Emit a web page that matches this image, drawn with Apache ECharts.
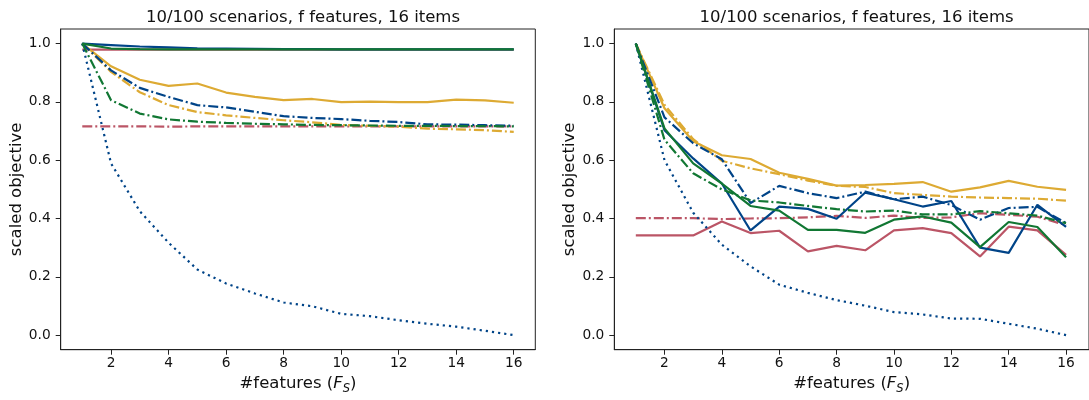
<!DOCTYPE html>
<html>
<head>
<meta charset="utf-8">
<script src="https://cdn.jsdelivr.net/npm/echarts@6/dist/echarts.min.js"></script>
<style>
html,body{margin:0;padding:0;background:#fff;}
#chart{width:1089px;height:400px;}
</style>
</head>
<body>
<div id="chart"></div>
<script>
// ---- data ----
const features = [1,2,3,4,5,6,7,8,9,10,11,12,13,14,15,16];
const xTicks = [2,4,6,8,10,12,14,16];
const yTicks = [0.0,0.2,0.4,0.6,0.8,1.0];
const panelTitle = '10/100 scenarios, f features, 16 items';

// left panel
const L_red_solid      = [0.979,0.979,0.979,0.979,0.979,0.979,0.979,0.979,0.979,0.979,0.979,0.979,0.979,0.979,0.979,0.979];
const L_red_dashdot    = [0.716,0.716,0.716,0.715,0.716,0.716,0.716,0.716,0.716,0.716,0.716,0.716,0.716,0.716,0.716,0.716];
const L_yellow_solid   = [1.0,0.922,0.876,0.855,0.863,0.832,0.817,0.806,0.810,0.799,0.801,0.799,0.799,0.808,0.805,0.797];
const L_yellow_dashdot = [1.0,0.903,0.833,0.789,0.765,0.754,0.745,0.737,0.730,0.721,0.718,0.715,0.708,0.706,0.703,0.697];
const L_blue_solid     = [1.0,0.995,0.990,0.987,0.984,0.983,0.982,0.981,0.981,0.980,0.980,0.980,0.980,0.980,0.980,0.980];
const L_blue_dashdot   = [1.0,0.908,0.848,0.817,0.789,0.781,0.766,0.751,0.745,0.741,0.735,0.731,0.723,0.722,0.720,0.718];
const L_blue_dotted    = [1.0,0.589,0.425,0.317,0.225,0.177,0.143,0.112,0.099,0.073,0.065,0.051,0.039,0.029,0.015,0.0];
const L_green_solid    = [1.0,0.983,0.981,0.980,0.980,0.980,0.980,0.980,0.980,0.980,0.980,0.980,0.980,0.980,0.980,0.980];
const L_green_dashdot  = [1.0,0.806,0.760,0.740,0.732,0.728,0.725,0.723,0.721,0.720,0.719,0.718,0.718,0.717,0.717,0.716];

// right panel
const R_red_solid      = [0.342,0.342,0.342,0.390,0.350,0.358,0.287,0.306,0.291,0.359,0.367,0.350,0.270,0.372,0.359,0.275];
const R_red_dashdot    = [0.401,0.401,0.401,0.398,0.400,0.401,0.404,0.409,0.402,0.410,0.402,0.404,0.418,0.413,0.406,0.377];
const R_yellow_solid   = [1.0,0.778,0.665,0.617,0.604,0.557,0.536,0.513,0.515,0.519,0.525,0.492,0.507,0.529,0.509,0.498];
const R_yellow_dashdot = [1.0,0.790,0.672,0.598,0.572,0.552,0.530,0.512,0.508,0.487,0.481,0.475,0.472,0.470,0.468,0.461];
const R_blue_solid     = [1.0,0.703,0.606,0.520,0.359,0.441,0.433,0.399,0.489,0.466,0.441,0.460,0.300,0.282,0.447,0.371];
const R_blue_dashdot   = [1.0,0.747,0.658,0.603,0.453,0.512,0.487,0.470,0.492,0.466,0.475,0.446,0.396,0.436,0.440,0.384];
const R_blue_dotted    = [1.0,0.600,0.420,0.310,0.236,0.173,0.145,0.120,0.101,0.079,0.071,0.057,0.056,0.039,0.022,0.0];
const R_green_solid    = [1.0,0.709,0.589,0.520,0.443,0.427,0.361,0.361,0.351,0.396,0.407,0.386,0.302,0.388,0.371,0.267];
const R_green_dashdot  = [1.0,0.670,0.555,0.500,0.462,0.455,0.443,0.432,0.424,0.427,0.414,0.414,0.425,0.418,0.410,0.384];

// ---- styles ----
const BLUE = '#004488', YELLOW = '#DDAA33', RED = '#BB5566', GREEN = '#117733';
const SOLID = 'solid', DASHDOT = [10, 3, 2, 3], DOTTED = [2.2, 4];
const FONT = 'DejaVu Sans';

const leftSeries = [
  [L_red_solid, RED, SOLID], [L_red_dashdot, RED, DASHDOT],
  [L_yellow_solid, YELLOW, SOLID], [L_yellow_dashdot, YELLOW, DASHDOT],
  [L_blue_solid, BLUE, SOLID], [L_blue_dashdot, BLUE, DASHDOT], [L_blue_dotted, BLUE, DOTTED],
  [L_green_solid, GREEN, SOLID], [L_green_dashdot, GREEN, DASHDOT]
];
const rightSeries = [
  [R_red_solid, RED, SOLID], [R_red_dashdot, RED, DASHDOT],
  [R_yellow_solid, YELLOW, SOLID], [R_yellow_dashdot, YELLOW, DASHDOT],
  [R_blue_solid, BLUE, SOLID], [R_blue_dashdot, BLUE, DASHDOT], [R_blue_dotted, BLUE, DOTTED],
  [R_green_solid, GREEN, SOLID], [R_green_dashdot, GREEN, DASHDOT]
];

function mkSeries(list, idx) {
  return list.map(([arr, color, type]) => ({
    type: 'line',
    xAxisIndex: idx, yAxisIndex: idx,
    data: features.map((f, i) => [f, arr[i]]),
    showSymbol: false, symbol: 'none',
    lineStyle: { color: color, width: 2.2, type: type, cap: 'butt' },
    emphasis: { disabled: true },
    silent: true
  }));
}

const grids = [
  { left: 60.7, top: 29, width: 474.6, height: 320.7 },
  { left: 614.3, top: 29, width: 476, height: 320.7 }
].map(g => Object.assign(g, { show: true, borderColor: '#222', borderWidth: 1, backgroundColor: 'transparent' }));

function mkX(idx, max) {
  return {
    type: 'value', gridIndex: idx, min: 0.25, max: max,
    splitLine: { show: false },
    axisLine: { show: true, onZero: false, lineStyle: { color: '#222', width: 1 } },
    axisTick: { show: true, customValues: xTicks, length: 5, lineStyle: { color: '#222', width: 1 } },
    axisLabel: { customValues: xTicks, margin: 7, color: '#111', fontFamily: FONT, fontSize: 13.75 },
    name: '#features ({i|F}{sub|S})',
    nameLocation: 'middle', nameGap: 24,
    nameTextStyle: {
      color: '#111', fontFamily: FONT, fontSize: 16.5,
      rich: {
        i: { fontStyle: 'italic', fontFamily: FONT, fontSize: 16.5, color: '#111' },
        sub: { fontStyle: 'italic', fontFamily: FONT, fontSize: 11.5, color: '#111', verticalAlign: 'bottom', padding: [9, 0, 0, 0] }
      }
    }
  };
}
function mkY(idx) {
  return {
    type: 'value', gridIndex: idx, min: -0.05, max: 1.05,
    splitLine: { show: false },
    axisLine: { show: true, onZero: false, lineStyle: { color: '#222', width: 1 } },
    axisTick: { show: true, customValues: yTicks, length: 5, lineStyle: { color: '#222', width: 1 } },
    axisLabel: { customValues: yTicks, margin: 10, color: '#111', fontFamily: FONT, fontSize: 13.75,
      formatter: v => Number(v).toFixed(1) },
    name: 'scaled objective', nameLocation: 'middle', nameGap: 35, nameRotate: 90,
    nameTextStyle: { color: '#111', fontFamily: FONT, fontSize: 16.5 }
  };
}

const option = {
  animation: false,
  backgroundColor: '#fff',
  title: [
    { text: panelTitle, left: 298, top: 4, textAlign: 'center',
      textStyle: { fontFamily: FONT, fontSize: 16.5, fontWeight: 'normal', color: '#111' } },
    { text: panelTitle, left: 851.6, top: 4, textAlign: 'center',
      textStyle: { fontFamily: FONT, fontSize: 16.5, fontWeight: 'normal', color: '#111' } }
  ],
  grid: grids,
  xAxis: [mkX(0, 16.75), mkX(1, 16.8)],
  yAxis: [mkY(0), mkY(1)],
  series: mkSeries(leftSeries, 0).concat(mkSeries(rightSeries, 1))
};

const chart = echarts.init(document.getElementById('chart'), null, { renderer: 'canvas' });
chart.setOption(option);
</script>
</body>
</html>
